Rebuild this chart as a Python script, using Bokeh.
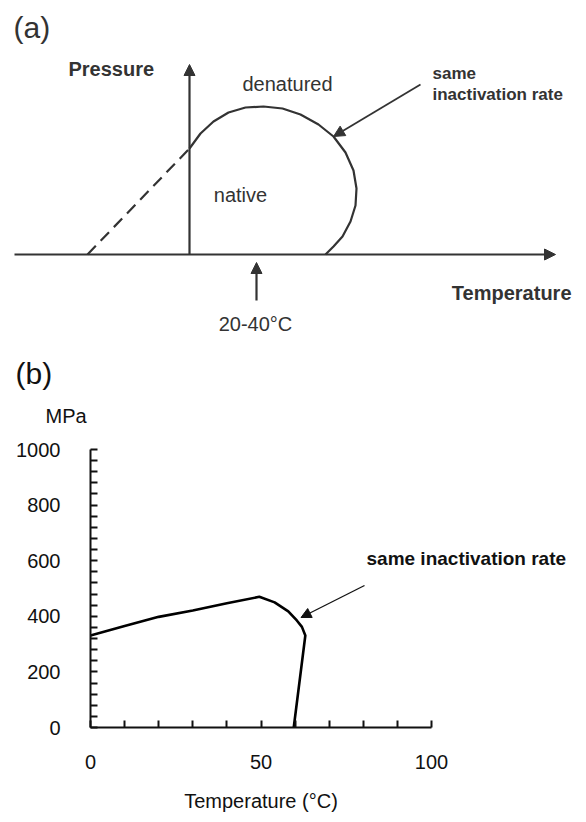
from bokeh.plotting import figure
from bokeh.models import Range1d, Arrow, NormalHead, FixedTicker, LinearAxis
from bokeh.embed import file_html
from bokeh.resources import INLINE
from bokeh.core.properties import value

# ---------------- data ----------------
# panel (b): curve of same inactivation rate
temperature_c = [0, 10, 20, 30, 40, 49.5, 54, 58, 60.5, 62, 63, 59.6]
pressure_mpa = [331, 365, 398, 421, 447, 470, 450, 418, 385, 362, 331, 0]
y_major_ticks = [0, 200, 400, 600, 800, 1000]
y_minor_ticks = [40, 80, 120, 160, 240, 280, 320, 360, 440, 480, 520, 560,
                 640, 680, 720, 760, 840, 880, 920, 960]
x_major_ticks = [0, 50, 100]
x_minor_ticks = [10, 20, 30, 40, 60, 70, 80, 90]

# panel (a): schematic boundary (drawing units, page pixels)
boundary_x = [189, 200, 213, 228, 245, 263, 282, 300, 318, 333, 345, 353, 356, 355, 350, 342, 333, 325]
boundary_y = [148, 133, 121, 112, 107, 106, 108, 114, 124, 136, 152, 170, 188, 205, 221, 236, 246, 254]
extrap_x = [87, 189]
extrap_y = [254, 148]

FONT = "Liberation Sans"
GREY = "#333333"
INK = "#111111"

W, H = 586, 822
# placement of panel (b)'s plotting area on the page
X0_PX, X100_PX = 90, 431
Y0_PX, Y1000_PX = 727, 449
def t_at(px):
    return (px - X0_PX) * 100.0 / (X100_PX - X0_PX)
def p_at(py):
    return (Y0_PX - py) * 1000.0 / (Y0_PX - Y1000_PX)

p = figure(width=W, height=H,
           x_range=Range1d(t_at(0), t_at(W)), y_range=Range1d(p_at(H), p_at(0)),
           output_backend="svg", toolbar_location=None, min_border=0,
           x_axis_type=None, y_axis_type=None, outline_line_color=None)
p.grid.visible = False
p.extra_x_ranges = {"px": Range1d(0, W)}
p.extra_y_ranges = {"px": Range1d(H, 0)}
PX = dict(x_range_name="px", y_range_name="px")

def arrow(x0, y0, x1, y1, lw=2.2, size=11, color=GREY, **kw):
    p.add_layout(Arrow(end=NormalHead(size=size, fill_color=color, line_color=color, line_width=1),
                       x_start=x0, y_start=y0, x_end=x1, y_end=y1,
                       line_width=lw, line_color=color, **kw))

def txt(x, y, s, size, align="left", bold=False, color=GREY):
    p.text(x=[x], y=[y], text=[s], text_font=value(FONT), text_font_size=size,
           text_font_style="bold" if bold else "normal", text_baseline="middle",
           text_align=align, text_color=color, **PX)

# ---------------- panel (a) ----------------
p.line(boundary_x, boundary_y, line_width=2.2, line_color=GREY, **PX)
p.line(extrap_x, extrap_y, line_width=2.2, line_color=GREY, line_dash="12 7", **PX)

arrow(189, 254, 189, 64, **PX)          # pressure axis
arrow(14, 254, 555, 254, **PX)          # temperature axis
arrow(256, 300, 256, 262, **PX)         # 20-40 C pointer
arrow(420, 84, 333, 136, lw=1.8, **PX)  # same inactivation rate pointer

txt(13, 27, "(a)", "30px")
txt(68, 68, "Pressure", "20px", bold=True)
txt(571, 292, "Temperature", "20px", align="right", bold=True)
txt(287, 83, "denatured", "20px", align="center")
txt(240, 194, "native", "20px", align="center")
txt(432, 73, "same", "17px", bold=True)
txt(432, 94, "inactivation rate", "17px", bold=True)
txt(255, 323, "20-40°C", "20px", align="center")

# ---------------- panel (b) ----------------
axis_style = dict(axis_line_width=2, axis_line_color=INK,
                  major_tick_in=7, major_tick_out=0, minor_tick_in=7, minor_tick_out=0,
                  major_tick_line_width=2, minor_tick_line_width=2,
                  major_tick_line_color=INK, minor_tick_line_color=INK,
                  major_label_text_font=FONT, major_label_text_font_size="20px",
                  major_label_text_color=INK)

xaxis = LinearAxis(ticker=FixedTicker(ticks=x_major_ticks, minor_ticks=x_minor_ticks),
                   fixed_location=0, bounds=(0, 100),
                   major_label_standoff=27, axis_label="Temperature (°C)",
                   axis_label_text_font=FONT, axis_label_text_font_size="20px",
                   axis_label_text_font_style="normal", axis_label_text_color=INK,
                   axis_label_standoff=18, **axis_style)
p.add_layout(xaxis, "below")

yaxis = LinearAxis(ticker=FixedTicker(ticks=y_major_ticks, minor_ticks=y_minor_ticks),
                   fixed_location=0, bounds=(0, 1000),
                   major_label_standoff=30, **axis_style)
p.add_layout(yaxis, "left")

p.line(temperature_c, pressure_mpa, line_width=2.6, line_color="black", line_join="round")

txt(15, 373, "(b)", "30px", color=INK)
txt(45, 415, "MPa", "20px", color=INK)
txt(366, 558, "same inactivation rate", "19px", bold=True, color=INK)
arrow(t_at(364), p_at(585), t_at(300.5), p_at(617), lw=1.3, size=10, color=INK)

open("out.html", "w").write(file_html(p, INLINE))
